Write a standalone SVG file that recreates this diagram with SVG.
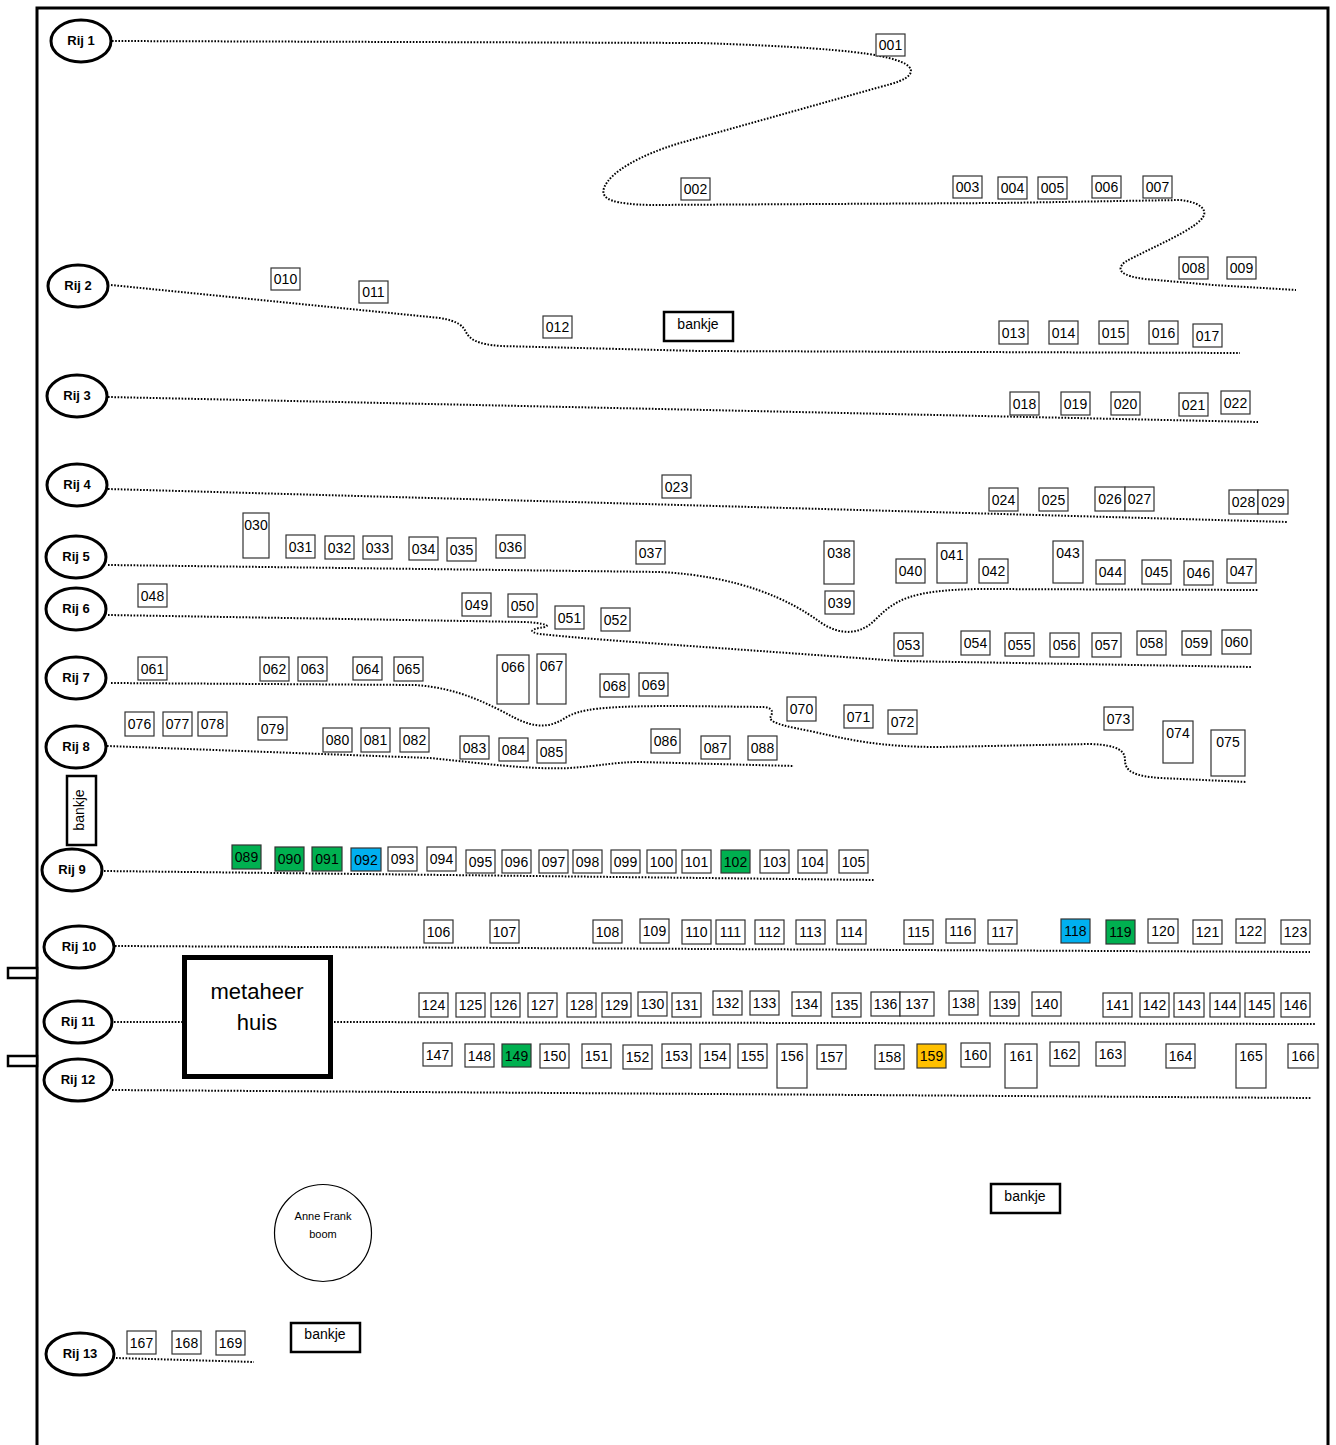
<svg xmlns="http://www.w3.org/2000/svg" width="1336" height="1445" viewBox="0 0 1336 1445">
<style>
.b{fill:#fff;stroke:#333;stroke-width:1.2}
.g{fill:#00B050;stroke:#333;stroke-width:1.2}
.u{fill:#00B0F0;stroke:#333;stroke-width:1.2}
.o{fill:#FFC000;stroke:#333;stroke-width:1.2}
text{font-family:"Liberation Sans",Arial,sans-serif;fill:#000}
.t{font-size:14px;text-anchor:middle}
.r ellipse{fill:#fff;stroke:#000;stroke-width:3}
.r text{font-size:13px;font-weight:bold;text-anchor:middle}
.d{fill:none;stroke:#000;stroke-width:2;stroke-dasharray:1.6 1.6}
.k{fill:#fff;stroke:#000;stroke-width:2.5}
.kt{font-size:14px;text-anchor:middle}
</style>
<rect width="1336" height="1445" fill="#fff"/>
<g id="frame">
<path d="M37,1446 V8 H1328 V1446" fill="none" stroke="#000" stroke-width="3"/>
<rect x="8" y="968" width="29" height="10" fill="#fff" stroke="#000" stroke-width="2.5"/>
<rect x="8" y="1056" width="29" height="10" fill="#fff" stroke="#000" stroke-width="2.5"/>
</g>
<g id="connectors">
<path class="d" d="M112,41 L700,43 C790,46 850,50 880,56 C905,61 914,67 910,74 C906,80 895,83 880,87 L680,143 C640,155 610,172 604,188 C600,200 615,204 650,205 L1000,203 L1180,200 C1198,202 1206,208 1204,215 C1200,228 1150,248 1125,262 C1115,270 1122,276 1145,279 L1213,285 L1296,290"/>
<path class="d" d="M111,285 L440,318 C458,321 463,326 466,332 C470,340 478,344 500,346 L700,351 L1240,353"/>
<path class="d" d="M108,397 L1258,422"/>
<path class="d" d="M108,489 L1288,522"/>
<path class="d" d="M108,565 L660,572 C740,576 790,600 820,622 C840,636 860,635 875,620 C895,600 910,590 980,589 L1258,590"/>
<path class="d" d="M108,615 L525,622 C545,623 550,626 545,627 C530,629 528,632 540,634 C560,636 580,638 620,641 L900,661 L1252,667"/>
<path class="d" d="M111,683 L415,685 C460,688 490,705 515,718 C535,728 550,728 565,718 C580,709 600,706 680,706 L765,707 C775,709 772,714 770,718 C772,724 790,727 810,731 C850,740 880,747 940,747 L1090,744 C1120,745 1125,752 1125,760 C1125,772 1135,776 1160,778 L1247,782"/>
<path class="d" d="M107,746 L430,758 C480,763 530,770 570,768 C600,766 615,762 640,762 L794,766"/>
<path class="d" d="M104,871 L875,880"/>
<path class="d" d="M115,946 L1310,952"/>
<path class="d" d="M114,1022 L182,1022"/>
<path class="d" d="M334,1022 L1316,1024"/>
<path class="d" d="M112,1090 L1312,1098"/>
<path class="d" d="M116,1358 L254,1362"/>
</g>
<g id="rij1" class="r"><ellipse cx="81" cy="41" rx="30" ry="21"/><text x="81" y="45">Rij 1</text></g>
<g id="rij2" class="r"><ellipse cx="78" cy="286" rx="30" ry="21"/><text x="78" y="290">Rij 2</text></g>
<g id="rij3" class="r"><ellipse cx="77" cy="396" rx="30" ry="21"/><text x="77" y="400">Rij 3</text></g>
<g id="rij4" class="r"><ellipse cx="77" cy="485" rx="30" ry="21"/><text x="77" y="489">Rij 4</text></g>
<g id="rij5" class="r"><ellipse cx="76" cy="557" rx="30" ry="21"/><text x="76" y="561">Rij 5</text></g>
<g id="rij6" class="r"><ellipse cx="76" cy="609" rx="30" ry="21"/><text x="76" y="613">Rij 6</text></g>
<g id="rij7" class="r"><ellipse cx="76" cy="678" rx="30" ry="21"/><text x="76" y="682">Rij 7</text></g>
<g id="rij8" class="r"><ellipse cx="76" cy="747" rx="30" ry="21"/><text x="76" y="751">Rij 8</text></g>
<g id="rij9" class="r"><ellipse cx="72" cy="870" rx="30" ry="21"/><text x="72" y="874">Rij 9</text></g>
<g id="rij10" class="r"><ellipse cx="79" cy="947" rx="35" ry="21"/><text x="79" y="951">Rij 10</text></g>
<g id="rij11" class="r"><ellipse cx="78" cy="1022" rx="34" ry="21"/><text x="78" y="1026">Rij 11</text></g>
<g id="rij12" class="r"><ellipse cx="78" cy="1080" rx="34" ry="21"/><text x="78" y="1084">Rij 12</text></g>
<g id="rij13" class="r"><ellipse cx="80" cy="1354" rx="34" ry="21"/><text x="80" y="1358">Rij 13</text></g>
<g id="bankje1"><rect class="k" x="664" y="312" width="69" height="29"/><text class="kt" x="698" y="329">bankje</text></g>
<g id="bankje2"><rect class="k" x="67" y="776" width="29" height="69"/><text class="kt" transform="translate(84,810) rotate(-90)">bankje</text></g>
<g id="bankje3"><rect class="k" x="991" y="1184" width="69" height="29"/><text class="kt" x="1025" y="1201">bankje</text></g>
<g id="bankje4"><rect class="k" x="291" y="1323" width="69" height="29"/><text class="kt" x="325" y="1339">bankje</text></g>
<g id="metaheerhuis"><rect x="184.5" y="957.5" width="146" height="119" fill="#fff" stroke="#000" stroke-width="5"/><text x="257" y="999" font-size="22" text-anchor="middle">metaheer</text><text x="257" y="1030" font-size="22" text-anchor="middle">huis</text></g>
<g id="annefrankboom"><circle cx="323" cy="1233" r="48.5" fill="#fff" stroke="#000" stroke-width="1.2"/><text x="323" y="1220" font-size="11" text-anchor="middle">Anne Frank</text><text x="323" y="1238" font-size="11" text-anchor="middle">boom</text></g>
<g id="p001"><rect class="b" x="876" y="34" width="29" height="22"/><text class="t" x="890.5" y="50">001</text></g>
<g id="p002"><rect class="b" x="681" y="178" width="29" height="22"/><text class="t" x="695.5" y="194">002</text></g>
<g id="p003"><rect class="b" x="953" y="176" width="29" height="22"/><text class="t" x="967.5" y="192">003</text></g>
<g id="p004"><rect class="b" x="998" y="177" width="29" height="22"/><text class="t" x="1012.5" y="193">004</text></g>
<g id="p005"><rect class="b" x="1038" y="177" width="29" height="22"/><text class="t" x="1052.5" y="193">005</text></g>
<g id="p006"><rect class="b" x="1092" y="176" width="29" height="22"/><text class="t" x="1106.5" y="192">006</text></g>
<g id="p007"><rect class="b" x="1143" y="176" width="29" height="22"/><text class="t" x="1157.5" y="192">007</text></g>
<g id="p008"><rect class="b" x="1179" y="257" width="29" height="22"/><text class="t" x="1193.5" y="273">008</text></g>
<g id="p009"><rect class="b" x="1227" y="257" width="29" height="22"/><text class="t" x="1241.5" y="273">009</text></g>
<g id="p010"><rect class="b" x="271" y="268" width="29" height="22"/><text class="t" x="285.5" y="284">010</text></g>
<g id="p011"><rect class="b" x="359" y="281" width="29" height="22"/><text class="t" x="373.5" y="297">011</text></g>
<g id="p012"><rect class="b" x="543" y="316" width="29" height="22"/><text class="t" x="557.5" y="332">012</text></g>
<g id="p013"><rect class="b" x="999" y="321" width="29" height="23"/><text class="t" x="1013.5" y="338">013</text></g>
<g id="p014"><rect class="b" x="1049" y="321" width="29" height="23"/><text class="t" x="1063.5" y="338">014</text></g>
<g id="p015"><rect class="b" x="1099" y="321" width="29" height="23"/><text class="t" x="1113.5" y="338">015</text></g>
<g id="p016"><rect class="b" x="1149" y="321" width="29" height="23"/><text class="t" x="1163.5" y="338">016</text></g>
<g id="p017"><rect class="b" x="1193" y="324" width="29" height="23"/><text class="t" x="1207.5" y="341">017</text></g>
<g id="p018"><rect class="b" x="1010" y="392" width="29" height="23"/><text class="t" x="1024.5" y="409">018</text></g>
<g id="p019"><rect class="b" x="1061" y="392" width="29" height="23"/><text class="t" x="1075.5" y="409">019</text></g>
<g id="p020"><rect class="b" x="1111" y="392" width="29" height="23"/><text class="t" x="1125.5" y="409">020</text></g>
<g id="p021"><rect class="b" x="1179" y="393" width="29" height="23"/><text class="t" x="1193.5" y="410">021</text></g>
<g id="p022"><rect class="b" x="1221" y="391" width="29" height="23"/><text class="t" x="1235.5" y="408">022</text></g>
<g id="p023"><rect class="b" x="662" y="475" width="29" height="23"/><text class="t" x="676.5" y="492">023</text></g>
<g id="p024"><rect class="b" x="989" y="488" width="29" height="23"/><text class="t" x="1003.5" y="505">024</text></g>
<g id="p025"><rect class="b" x="1039" y="488" width="29" height="23"/><text class="t" x="1053.5" y="505">025</text></g>
<g id="p026"><rect class="b" x="1095" y="487" width="30" height="24"/><text class="t" x="1110" y="504">026</text></g>
<g id="p027"><rect class="b" x="1125" y="487" width="29" height="24"/><text class="t" x="1139.5" y="504">027</text></g>
<g id="p028"><rect class="b" x="1229" y="490" width="29" height="24"/><text class="t" x="1243.5" y="507">028</text></g>
<g id="p029"><rect class="b" x="1258" y="490" width="30" height="24"/><text class="t" x="1273" y="507">029</text></g>
<g id="p030"><rect class="b" x="243" y="513" width="26" height="45"/><text class="t" x="256" y="530">030</text></g>
<g id="p031"><rect class="b" x="286" y="535" width="29" height="23"/><text class="t" x="300.5" y="552">031</text></g>
<g id="p032"><rect class="b" x="325" y="536" width="29" height="23"/><text class="t" x="339.5" y="553">032</text></g>
<g id="p033"><rect class="b" x="363" y="536" width="29" height="23"/><text class="t" x="377.5" y="553">033</text></g>
<g id="p034"><rect class="b" x="409" y="537" width="29" height="23"/><text class="t" x="423.5" y="554">034</text></g>
<g id="p035"><rect class="b" x="447" y="538" width="29" height="23"/><text class="t" x="461.5" y="555">035</text></g>
<g id="p036"><rect class="b" x="496" y="535" width="29" height="23"/><text class="t" x="510.5" y="552">036</text></g>
<g id="p037"><rect class="b" x="636" y="541" width="29" height="23"/><text class="t" x="650.5" y="558">037</text></g>
<g id="p038"><rect class="b" x="824" y="541" width="30" height="43"/><text class="t" x="839" y="558">038</text></g>
<g id="p039"><rect class="b" x="825" y="591" width="29" height="23"/><text class="t" x="839.5" y="608">039</text></g>
<g id="p040"><rect class="b" x="896" y="559" width="29" height="24"/><text class="t" x="910.5" y="576">040</text></g>
<g id="p041"><rect class="b" x="937" y="543" width="30" height="40"/><text class="t" x="952" y="560">041</text></g>
<g id="p042"><rect class="b" x="979" y="559" width="29" height="24"/><text class="t" x="993.5" y="576">042</text></g>
<g id="p043"><rect class="b" x="1053" y="541" width="30" height="42"/><text class="t" x="1068" y="558">043</text></g>
<g id="p044"><rect class="b" x="1096" y="560" width="29" height="24"/><text class="t" x="1110.5" y="577">044</text></g>
<g id="p045"><rect class="b" x="1142" y="560" width="29" height="24"/><text class="t" x="1156.5" y="577">045</text></g>
<g id="p046"><rect class="b" x="1184" y="561" width="29" height="24"/><text class="t" x="1198.5" y="578">046</text></g>
<g id="p047"><rect class="b" x="1227" y="559" width="29" height="24"/><text class="t" x="1241.5" y="576">047</text></g>
<g id="p048"><rect class="b" x="138" y="584" width="29" height="23"/><text class="t" x="152.5" y="601">048</text></g>
<g id="p049"><rect class="b" x="462" y="593" width="29" height="23"/><text class="t" x="476.5" y="610">049</text></g>
<g id="p050"><rect class="b" x="508" y="594" width="29" height="23"/><text class="t" x="522.5" y="611">050</text></g>
<g id="p051"><rect class="b" x="555" y="606" width="29" height="23"/><text class="t" x="569.5" y="623">051</text></g>
<g id="p052"><rect class="b" x="601" y="608" width="29" height="23"/><text class="t" x="615.5" y="625">052</text></g>
<g id="p053"><rect class="b" x="894" y="633" width="29" height="23"/><text class="t" x="908.5" y="650">053</text></g>
<g id="p054"><rect class="b" x="961" y="631" width="29" height="24"/><text class="t" x="975.5" y="648">054</text></g>
<g id="p055"><rect class="b" x="1005" y="633" width="29" height="23"/><text class="t" x="1019.5" y="650">055</text></g>
<g id="p056"><rect class="b" x="1050" y="633" width="29" height="24"/><text class="t" x="1064.5" y="650">056</text></g>
<g id="p057"><rect class="b" x="1092" y="633" width="29" height="24"/><text class="t" x="1106.5" y="650">057</text></g>
<g id="p058"><rect class="b" x="1137" y="631" width="29" height="24"/><text class="t" x="1151.5" y="648">058</text></g>
<g id="p059"><rect class="b" x="1182" y="631" width="29" height="24"/><text class="t" x="1196.5" y="648">059</text></g>
<g id="p060"><rect class="b" x="1222" y="630" width="29" height="24"/><text class="t" x="1236.5" y="647">060</text></g>
<g id="p061"><rect class="b" x="138" y="657" width="29" height="23"/><text class="t" x="152.5" y="674">061</text></g>
<g id="p062"><rect class="b" x="260" y="657" width="29" height="24"/><text class="t" x="274.5" y="674">062</text></g>
<g id="p063"><rect class="b" x="298" y="657" width="29" height="24"/><text class="t" x="312.5" y="674">063</text></g>
<g id="p064"><rect class="b" x="353" y="657" width="29" height="23"/><text class="t" x="367.5" y="674">064</text></g>
<g id="p065"><rect class="b" x="394" y="657" width="29" height="24"/><text class="t" x="408.5" y="674">065</text></g>
<g id="p066"><rect class="b" x="497" y="655" width="32" height="49"/><text class="t" x="513" y="672">066</text></g>
<g id="p067"><rect class="b" x="537" y="654" width="29" height="50"/><text class="t" x="551.5" y="671">067</text></g>
<g id="p068"><rect class="b" x="600" y="674" width="29" height="23"/><text class="t" x="614.5" y="691">068</text></g>
<g id="p069"><rect class="b" x="639" y="673" width="29" height="23"/><text class="t" x="653.5" y="690">069</text></g>
<g id="p070"><rect class="b" x="787" y="697" width="29" height="24"/><text class="t" x="801.5" y="714">070</text></g>
<g id="p071"><rect class="b" x="844" y="705" width="29" height="23"/><text class="t" x="858.5" y="722">071</text></g>
<g id="p072"><rect class="b" x="888" y="710" width="29" height="24"/><text class="t" x="902.5" y="727">072</text></g>
<g id="p073"><rect class="b" x="1104" y="707" width="29" height="23"/><text class="t" x="1118.5" y="724">073</text></g>
<g id="p074"><rect class="b" x="1163" y="721" width="30" height="42"/><text class="t" x="1178" y="738">074</text></g>
<g id="p075"><rect class="b" x="1211" y="730" width="34" height="46"/><text class="t" x="1228" y="747">075</text></g>
<g id="p076"><rect class="b" x="125" y="712" width="29" height="24"/><text class="t" x="139.5" y="729">076</text></g>
<g id="p077"><rect class="b" x="163" y="712" width="29" height="24"/><text class="t" x="177.5" y="729">077</text></g>
<g id="p078"><rect class="b" x="198" y="712" width="29" height="24"/><text class="t" x="212.5" y="729">078</text></g>
<g id="p079"><rect class="b" x="258" y="717" width="29" height="23"/><text class="t" x="272.5" y="734">079</text></g>
<g id="p080"><rect class="b" x="323" y="728" width="29" height="24"/><text class="t" x="337.5" y="745">080</text></g>
<g id="p081"><rect class="b" x="361" y="728" width="29" height="24"/><text class="t" x="375.5" y="745">081</text></g>
<g id="p082"><rect class="b" x="400" y="728" width="29" height="24"/><text class="t" x="414.5" y="745">082</text></g>
<g id="p083"><rect class="b" x="460" y="736" width="29" height="23"/><text class="t" x="474.5" y="753">083</text></g>
<g id="p084"><rect class="b" x="499" y="738" width="29" height="23"/><text class="t" x="513.5" y="755">084</text></g>
<g id="p085"><rect class="b" x="537" y="740" width="29" height="23"/><text class="t" x="551.5" y="757">085</text></g>
<g id="p086"><rect class="b" x="651" y="729" width="29" height="24"/><text class="t" x="665.5" y="746">086</text></g>
<g id="p087"><rect class="b" x="701" y="736" width="29" height="23"/><text class="t" x="715.5" y="753">087</text></g>
<g id="p088"><rect class="b" x="748" y="736" width="29" height="24"/><text class="t" x="762.5" y="753">088</text></g>
<g id="p089"><rect class="g" x="232" y="845" width="29" height="24"/><text class="t" x="246.5" y="862">089</text></g>
<g id="p090"><rect class="g" x="275" y="847" width="29" height="24"/><text class="t" x="289.5" y="864">090</text></g>
<g id="p091"><rect class="g" x="312" y="847" width="30" height="24"/><text class="t" x="327" y="864">091</text></g>
<g id="p092"><rect class="u" x="351" y="848" width="30" height="23"/><text class="t" x="366" y="865">092</text></g>
<g id="p093"><rect class="b" x="388" y="847" width="29" height="24"/><text class="t" x="402.5" y="864">093</text></g>
<g id="p094"><rect class="b" x="427" y="847" width="29" height="24"/><text class="t" x="441.5" y="864">094</text></g>
<g id="p095"><rect class="b" x="466" y="850" width="29" height="23"/><text class="t" x="480.5" y="867">095</text></g>
<g id="p096"><rect class="b" x="502" y="850" width="29" height="23"/><text class="t" x="516.5" y="867">096</text></g>
<g id="p097"><rect class="b" x="539" y="850" width="29" height="23"/><text class="t" x="553.5" y="867">097</text></g>
<g id="p098"><rect class="b" x="573" y="850" width="29" height="23"/><text class="t" x="587.5" y="867">098</text></g>
<g id="p099"><rect class="b" x="611" y="850" width="29" height="23"/><text class="t" x="625.5" y="867">099</text></g>
<g id="p100"><rect class="b" x="647" y="850" width="29" height="23"/><text class="t" x="661.5" y="867">100</text></g>
<g id="p101"><rect class="b" x="682" y="850" width="29" height="23"/><text class="t" x="696.5" y="867">101</text></g>
<g id="p102"><rect class="g" x="721" y="850" width="29" height="23"/><text class="t" x="735.5" y="867">102</text></g>
<g id="p103"><rect class="b" x="760" y="850" width="29" height="23"/><text class="t" x="774.5" y="867">103</text></g>
<g id="p104"><rect class="b" x="798" y="850" width="29" height="23"/><text class="t" x="812.5" y="867">104</text></g>
<g id="p105"><rect class="b" x="839" y="850" width="29" height="23"/><text class="t" x="853.5" y="867">105</text></g>
<g id="p106"><rect class="b" x="424" y="920" width="29" height="23"/><text class="t" x="438.5" y="937">106</text></g>
<g id="p107"><rect class="b" x="490" y="920" width="29" height="23"/><text class="t" x="504.5" y="937">107</text></g>
<g id="p108"><rect class="b" x="593" y="920" width="29" height="23"/><text class="t" x="607.5" y="937">108</text></g>
<g id="p109"><rect class="b" x="640" y="919" width="29" height="24"/><text class="t" x="654.5" y="936">109</text></g>
<g id="p110"><rect class="b" x="682" y="920" width="29" height="24"/><text class="t" x="696.5" y="937">110</text></g>
<g id="p111"><rect class="b" x="716" y="920" width="29" height="24"/><text class="t" x="730.5" y="937">111</text></g>
<g id="p112"><rect class="b" x="755" y="920" width="29" height="24"/><text class="t" x="769.5" y="937">112</text></g>
<g id="p113"><rect class="b" x="796" y="920" width="29" height="24"/><text class="t" x="810.5" y="937">113</text></g>
<g id="p114"><rect class="b" x="837" y="920" width="29" height="24"/><text class="t" x="851.5" y="937">114</text></g>
<g id="p115"><rect class="b" x="904" y="920" width="29" height="24"/><text class="t" x="918.5" y="937">115</text></g>
<g id="p116"><rect class="b" x="946" y="919" width="29" height="24"/><text class="t" x="960.5" y="936">116</text></g>
<g id="p117"><rect class="b" x="988" y="920" width="29" height="24"/><text class="t" x="1002.5" y="937">117</text></g>
<g id="p118"><rect class="u" x="1061" y="919" width="29" height="24"/><text class="t" x="1075.5" y="936">118</text></g>
<g id="p119"><rect class="g" x="1106" y="920" width="29" height="24"/><text class="t" x="1120.5" y="937">119</text></g>
<g id="p120"><rect class="b" x="1148" y="919" width="30" height="24"/><text class="t" x="1163" y="936">120</text></g>
<g id="p121"><rect class="b" x="1193" y="920" width="29" height="24"/><text class="t" x="1207.5" y="937">121</text></g>
<g id="p122"><rect class="b" x="1236" y="919" width="29" height="24"/><text class="t" x="1250.5" y="936">122</text></g>
<g id="p123"><rect class="b" x="1281" y="920" width="29" height="24"/><text class="t" x="1295.5" y="937">123</text></g>
<g id="p124"><rect class="b" x="419" y="993" width="29" height="24"/><text class="t" x="433.5" y="1010">124</text></g>
<g id="p125"><rect class="b" x="456" y="993" width="29" height="24"/><text class="t" x="470.5" y="1010">125</text></g>
<g id="p126"><rect class="b" x="491" y="993" width="29" height="24"/><text class="t" x="505.5" y="1010">126</text></g>
<g id="p127"><rect class="b" x="528" y="993" width="29" height="24"/><text class="t" x="542.5" y="1010">127</text></g>
<g id="p128"><rect class="b" x="567" y="993" width="29" height="24"/><text class="t" x="581.5" y="1010">128</text></g>
<g id="p129"><rect class="b" x="602" y="993" width="29" height="24"/><text class="t" x="616.5" y="1010">129</text></g>
<g id="p130"><rect class="b" x="638" y="992" width="29" height="24"/><text class="t" x="652.5" y="1009">130</text></g>
<g id="p131"><rect class="b" x="672" y="993" width="29" height="24"/><text class="t" x="686.5" y="1010">131</text></g>
<g id="p132"><rect class="b" x="713" y="991" width="29" height="24"/><text class="t" x="727.5" y="1008">132</text></g>
<g id="p133"><rect class="b" x="750" y="991" width="29" height="24"/><text class="t" x="764.5" y="1008">133</text></g>
<g id="p134"><rect class="b" x="792" y="992" width="29" height="24"/><text class="t" x="806.5" y="1009">134</text></g>
<g id="p135"><rect class="b" x="832" y="993" width="29" height="24"/><text class="t" x="846.5" y="1010">135</text></g>
<g id="p136"><rect class="b" x="871" y="992" width="29" height="24"/><text class="t" x="885.5" y="1009">136</text></g>
<g id="p137"><rect class="b" x="900" y="992" width="34" height="24"/><text class="t" x="917" y="1009">137</text></g>
<g id="p138"><rect class="b" x="949" y="991" width="29" height="24"/><text class="t" x="963.5" y="1008">138</text></g>
<g id="p139"><rect class="b" x="990" y="992" width="29" height="24"/><text class="t" x="1004.5" y="1009">139</text></g>
<g id="p140"><rect class="b" x="1032" y="992" width="29" height="24"/><text class="t" x="1046.5" y="1009">140</text></g>
<g id="p141"><rect class="b" x="1103" y="993" width="29" height="24"/><text class="t" x="1117.5" y="1010">141</text></g>
<g id="p142"><rect class="b" x="1140" y="993" width="29" height="24"/><text class="t" x="1154.5" y="1010">142</text></g>
<g id="p143"><rect class="b" x="1174" y="993" width="30" height="24"/><text class="t" x="1189" y="1010">143</text></g>
<g id="p144"><rect class="b" x="1210" y="993" width="30" height="24"/><text class="t" x="1225" y="1010">144</text></g>
<g id="p145"><rect class="b" x="1245" y="993" width="29" height="24"/><text class="t" x="1259.5" y="1010">145</text></g>
<g id="p146"><rect class="b" x="1281" y="993" width="29" height="24"/><text class="t" x="1295.5" y="1010">146</text></g>
<g id="p147"><rect class="b" x="423" y="1043" width="29" height="23"/><text class="t" x="437.5" y="1060">147</text></g>
<g id="p148"><rect class="b" x="465" y="1044" width="29" height="23"/><text class="t" x="479.5" y="1061">148</text></g>
<g id="p149"><rect class="g" x="502" y="1044" width="29" height="23"/><text class="t" x="516.5" y="1061">149</text></g>
<g id="p150"><rect class="b" x="540" y="1044" width="29" height="24"/><text class="t" x="554.5" y="1061">150</text></g>
<g id="p151"><rect class="b" x="582" y="1044" width="29" height="24"/><text class="t" x="596.5" y="1061">151</text></g>
<g id="p152"><rect class="b" x="623" y="1045" width="29" height="24"/><text class="t" x="637.5" y="1062">152</text></g>
<g id="p153"><rect class="b" x="662" y="1044" width="29" height="24"/><text class="t" x="676.5" y="1061">153</text></g>
<g id="p154"><rect class="b" x="700" y="1044" width="30" height="24"/><text class="t" x="715" y="1061">154</text></g>
<g id="p155"><rect class="b" x="738" y="1044" width="29" height="24"/><text class="t" x="752.5" y="1061">155</text></g>
<g id="p156"><rect class="b" x="777" y="1044" width="30" height="44"/><text class="t" x="792" y="1061">156</text></g>
<g id="p157"><rect class="b" x="817" y="1045" width="29" height="24"/><text class="t" x="831.5" y="1062">157</text></g>
<g id="p158"><rect class="b" x="875" y="1045" width="29" height="24"/><text class="t" x="889.5" y="1062">158</text></g>
<g id="p159"><rect class="o" x="917" y="1044" width="29" height="24"/><text class="t" x="931.5" y="1061">159</text></g>
<g id="p160"><rect class="b" x="961" y="1043" width="29" height="24"/><text class="t" x="975.5" y="1060">160</text></g>
<g id="p161"><rect class="b" x="1005" y="1044" width="32" height="44"/><text class="t" x="1021" y="1061">161</text></g>
<g id="p162"><rect class="b" x="1050" y="1042" width="29" height="24"/><text class="t" x="1064.5" y="1059">162</text></g>
<g id="p163"><rect class="b" x="1096" y="1042" width="29" height="24"/><text class="t" x="1110.5" y="1059">163</text></g>
<g id="p164"><rect class="b" x="1166" y="1044" width="29" height="24"/><text class="t" x="1180.5" y="1061">164</text></g>
<g id="p165"><rect class="b" x="1236" y="1044" width="30" height="44"/><text class="t" x="1251" y="1061">165</text></g>
<g id="p166"><rect class="b" x="1288" y="1044" width="30" height="24"/><text class="t" x="1303" y="1061">166</text></g>
<g id="p167"><rect class="b" x="127" y="1331" width="29" height="23"/><text class="t" x="141.5" y="1348">167</text></g>
<g id="p168"><rect class="b" x="172" y="1331" width="29" height="23"/><text class="t" x="186.5" y="1348">168</text></g>
<g id="p169"><rect class="b" x="216" y="1331" width="29" height="24"/><text class="t" x="230.5" y="1348">169</text></g>
</svg>
